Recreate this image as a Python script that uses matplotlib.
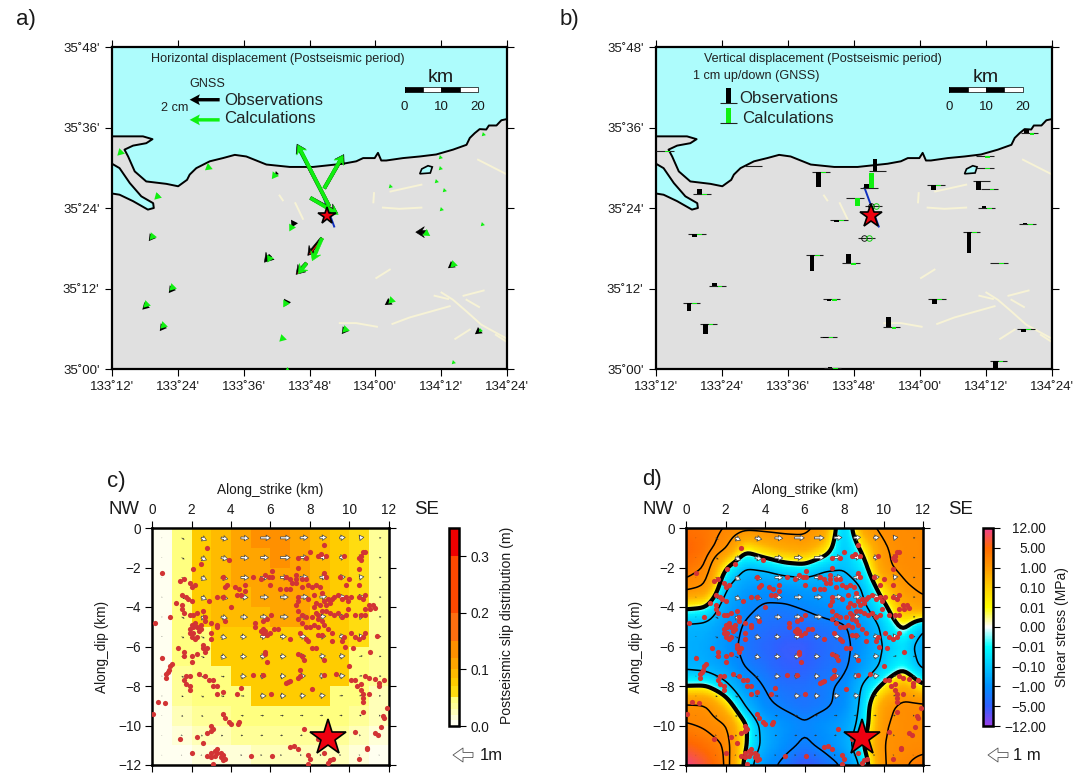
import numpy as np
import matplotlib
matplotlib.use("Agg")
import matplotlib.pyplot as plt
from matplotlib.colors import ListedColormap, BoundaryNorm, LinearSegmentedColormap, Normalize
from matplotlib.cm import ScalarMappable

plt.rcParams['font.family'] = ['Liberation Sans', 'DejaVu Sans']

# map data
coast_lon = [134.4,134.383,134.368,134.345,134.337,134.317,134.302,134.287,134.277,134.236,134.185,134.135,134.084,134.033,134.018,134.008,133.998,133.963,133.942,133.902,133.811,133.74,133.669,133.608,133.573,133.537,133.497,133.456,133.436,133.428,133.401,133.365,133.304,133.269,133.249,133.238,133.264,133.304,133.323,133.294,133.244,133.2,133.2,133.223,133.254,133.289,133.325,133.327,133.309,133.264,133.223,133.2]
coast_lat = [35.621,35.618,35.605,35.605,35.595,35.596,35.586,35.574,35.557,35.545,35.533,35.528,35.524,35.518,35.518,35.537,35.524,35.524,35.516,35.51,35.502,35.502,35.508,35.528,35.532,35.524,35.516,35.499,35.483,35.47,35.454,35.46,35.466,35.491,35.528,35.545,35.555,35.561,35.571,35.578,35.578,35.578,35.51,35.499,35.462,35.429,35.412,35.4,35.396,35.417,35.433,35.436]
lake_lon = [134.135,134.141,134.16,134.173,134.167,134.135]
lake_lat = [35.485,35.497,35.505,35.502,35.487,35.485]
faults = [
    ([134.312,134.396],[35.52,35.485]),
    ([134.046,134.14],[35.441,35.458]),
    ([134.023,134.074,134.14],[35.401,35.398,35.401]),
    ([133.996,133.994],[35.437,35.414]),
    ([133.709,133.719],[35.431,35.419]),
    ([133.757,133.78],[35.412,35.373]),
    ([134.003,134.044],[35.226,35.247]),
    ([134.18,134.221],[35.182,35.174]),
    ([134.201,134.236,134.277,134.322,134.396],[35.19,35.172,35.143,35.11,35.077]),
    ([134.268,134.329],[35.182,35.195]),
    ([134.277,134.315],[35.172,35.154]),
    ([134.052,134.104,134.226],[35.112,35.128,35.156]),
    ([133.892,133.942,134.005],[35.114,35.114,35.105]),
    ([134.243,134.287],[35.075,35.098]),
    ([134.366,134.396],[35.085,35.069]),
]
fault_trace_lon = [133.832,133.875]
fault_trace_lat = [35.45,35.354]
epicenter = (133.853,35.379)

sta_lon = [133.227,133.496,133.7,133.872,133.845,133.803,133.86,133.339,134.048,134.186,134.197,134.197,134.21,134.202,134.326,134.331,133.755,133.324,133.838,134.157,133.681,133.791,134.239,133.386,133.308,133.359,133.732,134.051,133.913,133.722,134.321,134.237,133.735]
sta_lat = [35.541,35.505,35.489,35.493,35.449,35.425,35.404,35.434,35.456,35.468,35.528,35.5,35.446,35.4,35.361,35.586,35.369,35.335,35.325,35.34,35.282,35.263,35.264,35.207,35.164,35.112,35.173,35.174,35.104,35.08,35.099,35.02,35.002]
obs_e = [0,0,-.05,0,1.3,1.8,-2.15,-.02,0,0,0,0,0,0,0,0,-.1,-.15,-.95,-.75,-.4,-.7,-.2,-.15,-.2,-.15,-.1,-.3,-.15,0,-.2,0,0]
obs_n = [0,0,-.05,0,2.25,-1.0,4.15,-.02,0,0,0,0,0,0,0,0,-.2,-.2,-1.15,0,-.45,-.75,-.15,-.2,-.2,-.2,-.2,-.2,-.2,0,-.15,0,0]
calc_e = [-.08,-.1,-.15,-.03,1.25,1.85,-2.1,-.08,-.06,-.05,-.04,-.04,-.04,-.04,-.04,-.06,-.25,-.08,-.65,-.1,-.1,-.55,-.1,-.1,-.1,-.1,-.15,-.1,-.1,-.1,-.05,-.05,-.05]
calc_n = [-.08,-.08,-.2,-.03,2.2,-1.1,4.1,-.08,-.06,-.05,-.04,-.04,-.04,-.04,-.04,-.06,-.45,-.1,-1.5,-.05,-.2,-.7,-.1,-.1,-.1,-.1,-.25,-.1,-.1,-.1,-.05,-.05,-.03]
obs_up = [0,0,-1.0,.75,.3,0,0,.35,-.3,-.6,0,0,0,.1,.05,.25,-.1,-.2,0,-1.4,-1.0,.6,-.05,.15,-.55,-.7,-.1,-.35,.7,-.1,-.2,-.6,.1]
calc_up = [-.05,-.05,-.05,-.03,1.0,-.55,0,-.05,-.05,-.05,-.1,-.1,-.06,-.08,-.1,-.1,-.03,-.05,0,-.05,-.05,-.1,-.08,-.08,-.05,-.05,-.1,-.05,-.1,-.08,-.05,-.05,-.1]

map_xticks = [133.2,133.4,133.6,133.8,134.0,134.2,134.4]
map_xlabels = ["133˚12'","133˚24'","133˚36'","133˚48'","134˚00'","134˚12'","134˚24'"]
map_yticks = [35.0,35.2,35.4,35.6,35.8]
map_ylabels = ["35˚00'","35˚12'","35˚24'","35˚36'","35˚48'"]

# fault plane data (km), top row first
slip = [
    [.005,.045,.075,.09,.105,.13,.13,.105,.09,.075,.06,.03],
    [.005,.045,.075,.09,.105,.105,.13,.105,.09,.075,.06,.03],
    [.005,.045,.075,.09,.105,.105,.105,.105,.09,.075,.06,.03],
    [.008,.045,.075,.09,.095,.105,.105,.105,.09,.075,.06,.03],
    [.008,.045,.075,.085,.09,.09,.105,.105,.08,.075,.06,.03],
    [.008,.04,.048,.075,.075,.08,.08,.08,.08,.075,.06,.03],
    [.008,.04,.048,.072,.075,.075,.075,.075,.075,.072,.045,.03],
    [.008,.035,.04,.048,.072,.072,.072,.072,.072,.072,.04,.03],
    [.008,.03,.04,.045,.048,.072,.072,.072,.072,.048,.04,.025],
    [.006,.025,.03,.038,.04,.045,.045,.045,.045,.04,.03,.02],
    [.005,.015,.022,.028,.03,.035,.035,.035,.035,.03,.02,.012],
    [.003,.008,.012,.016,.018,.022,.022,.022,.022,.02,.012,.008],
]
rake_by_col = [-30,-30,-25,-12,-3,0,0,3,5,5,8,0]
slip_bins = [0,.01,.02,.03,.04,.052,.07,.085,.10,.12,.15,.2,.3,.35]
slip_colors = ['#fffff0','#ffffd8','#ffffb8','#ffff98','#ffff80','#ffdc10','#ffcc00','#ffbb00','#ffa500','#ff9000','#ff6e10','#ff4800','#ee0000']

# stress on 1 km nodes, in colour-bar steps (0 = 0.00, 3 = 1.00 MPa, ...)
stress = [
    [3.9,3.8,3.5,3.1,3.1,3.1,3.1,2.2,-1.5,2.2,3.1,3.2,3.2],
    [4.2,3.9,3.0,.3,1.2,1.8,2.0,1.0,-1.5,.4,2.6,3.1,3.2],
    [3.9,3.5,0,-1.5,-1.2,-.6,-.4,-1.3,-1.4,-.6,2.4,3.1,3.2],
    [3.2,2.6,-1.4,-2.6,-2.9,-2.7,-2.5,-2.4,-2.2,-1.4,.8,2.5,3.0],
    [.2,0,-2.3,-3.2,-3.7,-3.7,-3.4,-3.0,-2.6,-1.7,-.4,1.6,2.3],
    [-1.8,-1.9,-2.7,-3.7,-4.0,-4.1,-4.1,-3.9,-3.7,-2.6,-1.2,.3,-1.4],
    [-2.0,-2.2,-2.9,-3.9,-4.2,-4.5,-4.5,-4.1,-3.9,-2.8,-1.4,-.8,-2.2],
    [-1.8,-2.0,-2.6,-3.6,-4.0,-4.4,-4.4,-4.0,-3.8,-2.5,-1.2,-.3,-1.9],
    [-.1,0,-1.1,-2.8,-3.6,-4.0,-4.0,-3.7,-3.3,-1.2,.2,1.7,.1],
    [3.0,2.9,1.0,-1.6,-3.3,-3.7,-3.95,-3.7,-3.2,-.9,2.2,3.1,3.1],
    [3.6,3.4,2.9,.2,-2.2,-2.9,-3.42,-2.9,-2.5,-.8,2.6,3.1,3.1],
    [4.2,3.9,3.5,.1,-2.0,-3.1,-3.7,-3.2,-2.3,0,2.8,3.1,3.2],
    [5.0,4.4,3.6,-.5,-3.0,-3.9,-4.7,-4.1,-3.4,-.9,2.7,3.4,3.9],
]
stress_labels = ['\u221212.00','\u22125.00','\u22121.00','\u22120.10','\u22120.01','0.00','0.01','0.10','1.00','5.00','12.00']
stress_colors = ['#9a40e8','#3060ff','#0090ff','#00c8ff','#00ffff','#ffffff','#ffff00','#ffd000','#ff9900','#ff6a00','#f04090']

quake_xy = [(2.8,-1.0),(2.1,-2.1),(2.5,-1.8),(.5,-2.3),(1.4,-2.7),(1.6,-2.6),(1.9,-2.8),(2.0,-3.0),(2.2,-2.9),(1.5,-3.4),(1.7,-3.5),(1.2,-3.8),(1.5,-3.9),(1.5,-4.1),(1.8,-3.6),(2.0,-3.7),(1.6,-4.3),(1.9,-4.4),(2.1,-4.4),(2.3,-4.3),(2.6,-4.2),(2.7,-4.5),(2.7,-4.7),(2.5,-4.9),(2.2,-4.8),(2.0,-4.9),(2.1,-5.0),(1.9,-5.1),(2.3,-5.0),(2.5,-5.1),(2.4,-5.2),(2.1,-5.3),(1.9,-5.3),(2.0,-5.5),(2.2,-5.6),(2.3,-5.5),(.9,-4.5),(.15,-4.8),(3.0,-4.8),(3.3,-5.0),(3.0,-5.3),(3.0,-5.6),(2.6,-5.9),(2.6,-6.1),(2.8,-6.1),(2.7,-6.3),(1.3,-6.1),(1.6,-6.3),(1.6,-6.5),(2.0,-6.5),(2.3,-6.4),(2.0,-6.8),(.5,-6.6),
    (1.0,-6.9),(.9,-7.0),(.85,-7.2),(.8,-7.3),(.7,-7.4),(.7,-7.6),(1.7,-7.5),(1.9,-7.5),(1.6,-7.7),(1.7,-7.9),(1.9,-8.0),(1.9,-8.2),(2.4,-7.4),(2.7,-7.5),(2.9,-7.7),(3.1,-7.7),(3.1,-8.0),(3.3,-8.0),(3.3,-8.4),(3.6,-8.3),(4.3,-8.4),(4.5,-8.1),(.3,-8.8),(.65,-8.85),(.05,-9.4),(3.6,-9.4),(3.7,-9.6),(3.9,-9.8),(4.0,-9.9),(4.35,-9.9),(4.4,-9.8),(3.0,-10.0),(3.1,-10.2),(3.0,-10.3),(2.8,-10.4),(1.4,-10.7),(2.3,-10.6),(2.6,-10.9),
    (3.3,-11.2),(3.2,-11.3),(3.0,-11.4),(3.3,-11.4),(3.5,-11.4),(3.6,-11.5),(2.8,-11.55),(3.0,-11.6),(3.2,-11.55),(3.5,-11.6),(3.6,-11.75),(3.7,-11.7),(3.1,-11.95),(2.0,-11.4),(5.0,-11.55),(6.1,-11.55),(7.0,-11.1),(7.2,-11.05),(7.4,-11.2),(7.9,-11.5),(8.0,-11.7),(7.9,-11.95),(8.7,-11.4),(9.0,-11.75),(9.15,-11.7),(8.9,-11.9),(7.7,-10.2),(8.4,-10.7),
    (10.3,-10.35),(10.9,-11.15),(10.9,-11.2),(10.5,-11.7),(11.3,-10.4),(11.45,-10.5),(11.6,-10.1),(11.7,-9.5),(11.75,-9.6),(11.9,-9.1),(10.7,-9.3),(10.7,-8.8),(10.7,-8.6),(10.7,-8.4),(10.6,-8.2),(10.4,-8.0),(10.6,-7.9),(10.3,-7.7),(10.1,-7.7),(10.8,-7.5),(11.0,-7.6),(11.3,-7.65),(11.5,-7.85),(11.5,-8.0),(11.75,-7.7),(11.0,-8.4),(9.3,-7.4),
    (5.1,-7.45),(5.6,-7.45),(6.8,-7.85),(6.9,-7.8),(7.0,-7.75),(7.4,-7.6),(7.5,-7.5),(7.5,-7.2),(8.1,-8.15),(6.05,-8.4),(8.7,-7.45),(5.7,-6.3),(5.7,-6.4),(5.8,-6.8),(7.4,-6.4),(7.6,-6.5),(7.7,-6.7),(8.7,-6.7),(8.1,-6.1),(8.3,-6.1),(9.75,-6.0),(10.2,-6.1),(11.05,-6.3),(10.0,-7.0),
    (5.2,-4.8),(5.2,-5.0),(5.6,-4.7),(5.8,-4.6),(5.6,-5.1),(5.7,-5.2),(5.5,-5.2),(5.6,-5.3),(5.8,-5.4),(6.0,-5.3),(6.2,-5.1),(6.4,-5.1),(6.05,-4.4),(4.3,-3.4),(4.5,-3.4),(4.7,-3.2),(4.2,-3.0),(4.4,-3.1),(4.7,-2.9),(3.3,-3.5),(2.9,-3.7),(3.6,-3.5),(4.0,-4.0),(3.3,-4.9),(3.7,-4.7),(3.7,-3.0),(3.8,-2.9),(3.6,-2.5),(3.9,-1.6),(5.1,-2.5),(5.5,-2.6),(5.7,-2.4),(5.9,-2.5),(6.1,-2.5),(6.1,-2.2),(6.0,-2.9),(6.8,-2.5),(7.3,-2.4),(7.3,-2.6),(7.3,-2.8),(7.1,-2.8),(7.0,-2.6),(7.4,-2.0),(7.6,-2.6),(7.8,-2.6),(7.0,-3.1),(6.8,-3.1),(6.5,-3.1),(7.6,-3.0),(7.9,-2.9),(8.1,-3.0),(8.3,-2.9),(8.7,-2.3),(8.8,-2.5),(9.5,-2.5),(10.0,-2.6),(10.5,-2.9),(9.8,-2.9),(8.5,-3.0),
    (7.4,-1.5),(7.8,-1.5),(8.0,-1.2),(8.4,-1.4),(8.55,-1.3),(8.8,-1.4),(8.7,-.85),(9.7,-1.4),(10.5,-1.5),(10.6,-1.4),(10.8,-1.2),(10.7,-1.2),(10.6,-1.6),(10.5,-2.1),
    (8.2,-4.0),(8.3,-3.8),(8.5,-3.9),(8.7,-3.7),(8.9,-3.6),(8.8,-3.9),(9.0,-3.8),(9.2,-3.5),(9.1,-3.6),(9.4,-3.4),(9.6,-3.6),(9.8,-3.5),(9.9,-3.7),(10.1,-3.5),(10.5,-3.5),(10.7,-3.6),(10.8,-3.4),(11.0,-3.9),(11.05,-4.1),(11.2,-3.9),(11.3,-4.05),(10.8,-4.1),(8.3,-4.3),(8.4,-4.4),(8.6,-4.2),(8.8,-4.2),(9.0,-4.3),(9.2,-4.4),(9.4,-4.3),(9.6,-4.5),(9.9,-4.1),(9.8,-4.4),(10.3,-4.4),(10.6,-4.4),(10.8,-4.4),(7.4,-4.2),(7.6,-4.4),(7.8,-4.5),(7.4,-4.6),(7.6,-4.8),(7.8,-5.0),(8.0,-5.0),(8.2,-4.9),(8.4,-5.0),(8.6,-4.7),(8.7,-4.9),(8.4,-4.6),(8.1,-4.5),(8.9,-5.1),(9.1,-5.3),(8.4,-5.4),(8.6,-5.4),(7.5,-5.3),(7.8,-5.6),(7.9,-5.7),(9.7,-5.5),(10.1,-5.3),(10.3,-5.5),(10.8,-5.3),(10.7,-5.5),(10.5,-5.6),(11.4,-5.45),(7.3,-3.9),(7.9,-3.6),(7.4,-3.5),(7.4,-3.7),(8.2,-3.4),(8.6,-3.3),(9.1,-5.7),(9.6,-5.7),(7.0,-5.6)]
hypocenter = (8.9,-10.65)

W, H = 1084, 773
fig = plt.figure(figsize=(W/100, H/100), dpi=100)


def px_axes(l, t, r, b):
    return fig.add_axes([l/W, 1-b/H, (r-l)/W, (b-t)/H])


def px_text(x, y, s, **kw):
    kw.setdefault('va', 'center')
    kw.setdefault('color', '#1a1a1a')
    fig.text(x/W, 1-y/H, s, **kw)


def draw_map(ax):
    ax.set_facecolor('#adfcfc')
    ax.fill(coast_lon+[133.2,134.4], coast_lat+[35.0,35.0], color='#e0e0e0', lw=0)
    ax.plot(coast_lon[:42], coast_lat[:42], color='k', lw=1.4)
    ax.plot(coast_lon[42:], coast_lat[42:], color='k', lw=1.4)
    ax.fill(lake_lon, lake_lat, fc='#adfcfc', ec='k', lw=1.2)
    for lons, lats in faults:
        ax.plot(lons, lats, color='#f7f3d6', lw=1.4)
    ax.plot(fault_trace_lon, fault_trace_lat, color='#1030c0', lw=1.4, zorder=3)
    ax.set_xlim(133.2, 134.4)
    ax.set_ylim(35.0, 35.8)
    ax.set_xticks(map_xticks, map_xlabels)
    ax.set_yticks(map_yticks, map_ylabels)
    ax.tick_params(top=True, right=True, length=5, width=.8, labelsize=9.5, pad=4, labelcolor='#1a1a1a')
    for s in ax.spines.values():
        s.set_linewidth(1.6)
    # scale bar
    edges = [134.089,134.145,134.2,134.256,134.312]
    for i in range(4):
        ax.fill([edges[i],edges[i+1],edges[i+1],edges[i]], [35.688,35.688,35.70,35.70],
                fc='k' if i % 2 == 0 else 'w', ec='k', lw=.5, zorder=5)
    ax.plot([edges[0],edges[0]],[35.688,35.70],color='k',lw=.7,zorder=5)
    for x, lab in zip(edges[::2], ['0','10','20']):
        ax.text(x, 35.652, lab, ha='center', va='center', fontsize=9.5, color='#1a1a1a')
    ax.text(edges[2], 35.724, 'km', ha='center', va='center', fontsize=14, color='#1a1a1a')


def star(ax, x, y, size):
    ax.plot([x], [y], marker='*', ms=size, mfc='#ee0010', mec='k', mew=1.2, zorder=10, clip_on=False)


def draw_vectors(ax, e, n, color, z):
    # long vectors are real arrows, short ones are only a head at the tip
    e = np.array(e, float)
    n = np.array(n, float)
    mag = np.hypot(e, n)
    lon = np.array(sta_lon)
    lat = np.array(sta_lat)
    long = mag >= .6
    ax.quiver(lon[long], lat[long], e[long], n[long], angles='uv', scale_units='inches', scale=6.67, units='dots',
              pivot='tail', zorder=z, color=color, edgecolor=color, linewidth=.4, width=3.3,
              headwidth=3.3, headlength=2.6, headaxislength=1.9)
    # 15 px per cm, axes of 395 x 322 px
    tip_lon = lon + e*15*1.2/395
    tip_lat = lat + n*15*.8/322
    for i in np.nonzero((mag > 0) & ~long)[0]:
        angle = np.degrees(np.arctan2(n[i], e[i])) - 90
        size = 6.5 if mag[i] >= .09 else 3.6
        ax.plot([tip_lon[i]], [tip_lat[i]], marker=(3, 0, angle), ms=size, color=color, mew=0, zorder=z)


# a) horizontal
ax_a = px_axes(112, 47, 507, 369)
draw_map(ax_a)
obs_mag = np.hypot(obs_e, obs_n)
big = obs_mag > .8
draw_vectors(ax_a, obs_e, obs_n, 'k', 6)
ax_a.quiver(np.array(sta_lon)[big]+.0022, np.array(sta_lat)[big], np.array(obs_e)[big]*.93, np.array(obs_n)[big]*.93,
            angles='uv', scale_units='inches', scale=6.67, units='dots', color='#e01010', width=1.2,
            headwidth=1, headlength=.1, headaxislength=.1, zorder=6.5)
draw_vectors(ax_a, calc_e, calc_n, '#10f010', 7)
ax_a.quiver([133.527,133.527], [35.669,35.619], [-2,-2], [0,0], color=['k','#10f010'],
            angles='uv', scale_units='inches', scale=6.67, units='dots', width=3.4, headwidth=3.2, headlength=3, headaxislength=2.6, zorder=6)
star(ax_a, *epicenter, 13)
ax_a.text(133.319, 35.769, 'Horizontal displacement (Postseismic period)', fontsize=9.05, va='center', color='#222222')
ax_a.text(133.49, 35.709, 'GNSS', fontsize=9.05, ha='center', va='center', color='#222222')
ax_a.text(133.389, 35.648, '2 cm', fontsize=9.05, ha='center', va='center', color='#222222')
ax_a.text(133.542, 35.667, 'Observations', fontsize=12.1, va='center', color='#222222')
ax_a.text(133.542, 35.623, 'Calculations', fontsize=12.1, va='center', color='#222222')

# b) vertical
ax_b = px_axes(656, 47, 1052, 369)
draw_map(ax_b)
cm_to_deg = .0373
sta_lon_a = np.array(sta_lon)
sta_lat_a = np.array(sta_lat)
up_o = np.array(obs_up)
up_c = np.array(calc_up)
none = (up_o == 0) & (up_c == 0)
ax_b.hlines(sta_lat_a, sta_lon_a-.0263, sta_lon_a+.0263, color='#222222', lw=.8, zorder=4)
ax_b.bar(sta_lon_a[~none]-.0081, up_o[~none]*cm_to_deg, bottom=sta_lat_a[~none], width=.0142, color='k', zorder=5)
ax_b.bar(sta_lon_a[~none]+.0081, up_c[~none]*cm_to_deg, bottom=sta_lat_a[~none], width=.0142, color='#10f010', zorder=5)
ax_b.plot(sta_lon_a[none]-.0081, sta_lat_a[none], 'o', ms=4, mfc='none', mec='k', mew=.6, zorder=5)
ax_b.plot(sta_lon_a[none]+.0081, sta_lat_a[none], 'o', ms=4, mfc='none', mec='#10d010', mew=.7, zorder=5)
legend_lat = [35.661, 35.61]
ax_b.hlines(legend_lat, 133.394, 133.446, color='#222222', lw=.8)
ax_b.bar([133.42,133.42], [cm_to_deg,cm_to_deg], bottom=legend_lat, width=.0142, color=['k','#10f010'])
star(ax_b, *epicenter, 17)
ax_b.text(133.344, 35.769, 'Vertical displacement (Postseismic period)', fontsize=9.1, va='center', color='#222222')
ax_b.text(133.311, 35.729, '1 cm up/down (GNSS)', fontsize=9.1, va='center', color='#222222')
ax_b.text(133.451, 35.673, 'Observations', fontsize=12.1, va='center', color='#222222')
ax_b.text(133.462, 35.623, 'Calculations', fontsize=12.1, va='center', color='#222222')


def draw_plane(ax):
    ax.set_xlim(0, 12)
    ax.set_ylim(-12, 0)
    ax.set_xticks(range(0, 13, 2))
    ax.set_yticks(range(-12, 1, 2))
    ax.xaxis.tick_top()
    ax.tick_params(top=True, bottom=True, left=True, right=True, labeltop=True, labelbottom=False,
                   length=5, width=.8, labelsize=9.8, pad=3, labelcolor='#1a1a1a')
    for s in ax.spines.values():
        s.set_linewidth(1.8)
    # slip vectors
    s = np.array(slip)
    r = np.radians(rake_by_col)
    X, Y = np.meshgrid(np.arange(12)+.5, -(np.arange(12)+.5))
    U = s*np.cos(r)
    V = s*np.sin(r)
    long = s >= .06
    ax.quiver(X[long], Y[long], U[long], V[long], angles='uv', scale_units='inches', scale=1.33, units='dots',
              width=2, headwidth=2.8, headlength=2.2, headaxislength=2, minshaft=.6, minlength=.3,
              facecolor='white', edgecolor='#444444', linewidth=.5, zorder=3)
    ax.quiver(X[~long], Y[~long], U[~long], V[~long], angles='uv', scale_units='inches', scale=1.33, units='dots',
              width=.7, headwidth=3, headlength=2.5, headaxislength=2.2, minshaft=.6, minlength=.8,
              color='#333333', zorder=3)
    qx, qy = zip(*quake_xy)
    ax.scatter(qx, qy, s=14, color='#d23434', lw=0, zorder=4)
    star(ax, *hypocenter, 27)


def smooth_grid(grid, n=8, sigma=2.5):
    # refine the 1 km node table so the contours come out round
    g = np.array(grid, float)
    nodes = np.arange(g.shape[0])
    fine = np.linspace(0, g.shape[0]-1, (g.shape[0]-1)*n+1)
    g = np.array([np.interp(fine, nodes, row) for row in g])
    g = np.array([np.interp(fine, nodes, col) for col in g.T]).T
    k = np.arange(-8, 9)
    kern = np.exp(-(k/sigma)**2)
    kern = kern/kern.sum()
    for axis in (0, 1):
        pad = [(8, 8) if a == axis else (0, 0) for a in (0, 1)]
        g = np.pad(g, pad, mode='edge')
        g = np.apply_along_axis(lambda v: np.convolve(v, kern, mode='valid'), axis, g)
    return fine, g


# c) slip
ax_c = px_axes(152, 528, 389, 765)
slip_norm = BoundaryNorm(slip_bins, len(slip_colors))
slip_cmap = ListedColormap(slip_colors)
ax_c.pcolormesh(np.arange(13), -np.arange(13), np.array(slip), cmap=slip_cmap, norm=slip_norm)
draw_plane(ax_c)

cax_c = px_axes(449, 528, 459, 726)
cb = fig.colorbar(ScalarMappable(norm=slip_norm, cmap=slip_cmap), cax=cax_c, spacing='proportional')
cb.set_ticks([0,.1,.2,.3], labels=['0.0','0.1','0.2','0.3'])
cax_c.minorticks_off()
cb.ax.tick_params(length=5, width=.8, labelsize=9.8, pad=3, labelcolor='#1a1a1a')
cb.outline.set_linewidth(1.8)
cb.dividers.set_visible(False)
px_text(507, 625, 'Postseismic slip distribution (m)', rotation=90, ha='center', fontsize=10.1)

# d) stress
ax_d = px_axes(686, 528, 923, 765)
stress_cmap = LinearSegmentedColormap.from_list('stress', stress_colors)
stress_norm = Normalize(-5, 5)
nodes, field = smooth_grid(stress)
# colour steps are narrow round zero on the original, so push the fill away from it
shade = np.interp(field, [-5,-4.5,-3.5,-1.5,-.5,0,.5,1.5,2.7,3.5,5], [-5,-4.1,-3.2,-2.2,-1.2,0,1.5,2.6,3.1,3.4,5])
ax_d.pcolormesh(nodes, -nodes, shade, cmap=stress_cmap, norm=stress_norm, shading='gouraud')
ax_d.contour(nodes, -nodes, field, levels=[-3.5,-1.5,2.7,3.5], colors='k', linewidths=1.1, linestyles='solid')
ax_d.contour(nodes, -nodes, field, levels=[0], colors='k', linewidths=3, linestyles='solid')
draw_plane(ax_d)

cax_d = px_axes(983, 528, 993, 726)
cb2 = fig.colorbar(ScalarMappable(norm=stress_norm, cmap=stress_cmap), cax=cax_d)
cb2.set_ticks(range(-5, 6), labels=stress_labels)
cax_d.minorticks_off()
cb2.ax.tick_params(length=5, width=.8, labelsize=9.8, pad=33, labelcolor='#1a1a1a')
for lab in cax_d.get_yticklabels():
    lab.set_ha('right')
cb2.outline.set_linewidth(1.8)
px_text(1062, 627, 'Shear stress (MPa)', rotation=90, ha='center', fontsize=10)

# key arrows for the slip vectors
key = fig.add_axes([0, 0, 1, 1], facecolor='none')
key.axis('off')
key.set_xlim(0, W)
key.set_ylim(H, 0)
key.quiver([473, 1008], [755, 755], [-20, -20], [0, 0], angles='xy', scale_units='xy', scale=1, units='dots', width=5,
           headwidth=2.8, headlength=2, headaxislength=2, facecolor='white', edgecolor='#555555', linewidth=.6)
px_text(480, 755, '1m', fontsize=12)
px_text(1013, 755, '1 m', fontsize=12)

# panel labels and other text
px_text(16, 20, 'a)', fontsize=16)
px_text(560, 20, 'b)', fontsize=16)
px_text(107, 482, 'c)', fontsize=16)
px_text(642, 480, 'd)', fontsize=16)
for x_mid, y_lab, nw, se in [(270, 102, 108, 414), (805, 636, 642, 948)]:
    px_text(x_mid, 490, 'Along_strike (km)', ha='center', fontsize=9.85)
    px_text(y_lab, 647, 'Along_dip (km)', rotation=90, ha='center', fontsize=9.85)
    px_text(nw, 509, 'NW', fontsize=13.4)
    px_text(se, 509, 'SE', fontsize=13.4)

fig.savefig('out.png', dpi=100)
